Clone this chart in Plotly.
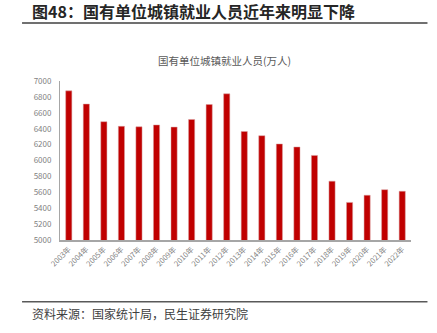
import plotly.graph_objects as go

years = ["2003年", "2004年", "2005年", "2006年", "2007年", "2008年", "2009年", "2010年",
         "2011年", "2012年", "2013年", "2014年", "2015年", "2016年", "2017年", "2018年",
         "2019年", "2020年", "2021年", "2022年"]
employees = [6876, 6710, 6488, 6430, 6424, 6447, 6420, 6516, 6704, 6839,
             6365, 6312, 6208, 6170, 6064, 5740, 5473, 5563, 5633, 5613]
y_ticks = [5000, 5200, 5400, 5600, 5800, 6000, 6200, 6400, 6600, 6800, 7000]

FONT = "Noto Sans CJK SC"
W, H = 437, 333
L, R, T, B = 60, 25.5, 81.3, 93
pw, ph = W - L - R, H - T - B

def px(x):
    return (x - L) / pw

def py(y):
    return (H - B - y) / ph

fig = go.Figure()
fig.add_trace(go.Bar(
    x=years, y=employees,
    marker=dict(color="#C00000", line=dict(color="#D9A0A0", width=0.5)),
))

fig.update_layout(
    width=W, height=H,
    margin=dict(l=L, r=R, t=T, b=B, pad=0),
    paper_bgcolor="white", plot_bgcolor="white",
    showlegend=False,
    bargap=0.65,
    font=dict(family=FONT, color="#595959"),
    xaxis=dict(
        type="category", tickangle=-45, showgrid=False,
        showline=True, linecolor="#A6A6A6", linewidth=2,
        ticks="", tickfont=dict(size=7.5, color="#7F7F7F", family=FONT),
    ),
    yaxis=dict(
        range=[5000, 7000], tickvals=y_ticks, showgrid=False,
        showline=True, linecolor="#A6A6A6", linewidth=1,
        ticks="", tickfont=dict(size=8, color="#7F7F7F", family=FONT),
        ticklabelstandoff=6,
    ),
    shapes=[
        dict(type="line", xref="paper", yref="paper", x0=px(22), x1=px(428), y0=py(23.5), y1=py(23.5),
             line=dict(color="#404040", width=1.5)),
        dict(type="line", xref="paper", yref="paper", x0=px(22), x1=px(428), y0=py(301.7), y1=py(301.7),
             line=dict(color="#595959", width=1.5)),
    ],
    annotations=[
        dict(text="<b>图48：国有单位城镇就业人员近年来明显下降</b>", xref="paper", yref="paper",
             x=px(30), y=py(11.5), xanchor="left", yanchor="middle", showarrow=False,
             font=dict(size=16, color="#262626", family=FONT)),
        dict(text="国有单位城镇就业人员(万人)", xref="paper", yref="paper",
             x=px(225), y=py(61), xanchor="center", yanchor="middle", showarrow=False,
             font=dict(size=10.5, color="#595959", family=FONT)),
        dict(text="资料来源：国家统计局，民生证券研究院", xref="paper", yref="paper",
             x=px(30), y=py(313.5), xanchor="left", yanchor="middle", showarrow=False,
             font=dict(size=12, color="#404040", family=FONT)),
    ],
)

fig.write_html("out.html")
